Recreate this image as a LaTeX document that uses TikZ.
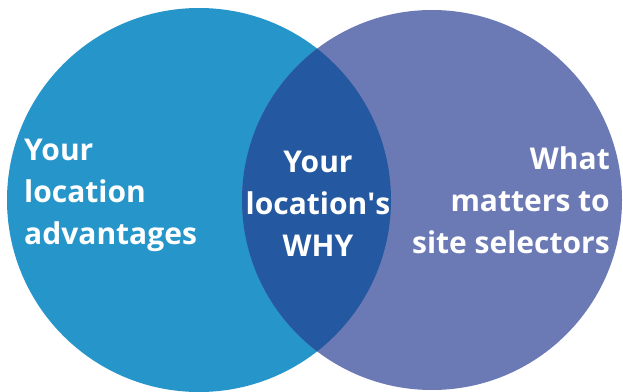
\documentclass[tikz,border=0pt]{standalone}
\usepackage{fontspec}
\setmainfont{Open Sans}
\newlength{\du}
\setlength{\du}{1pt}
\definecolor{leftcolor}{rgb}{0.145000, 0.584000, 0.792000}
\definecolor{rightcolor}{rgb}{0.420000, 0.478000, 0.710000}
\definecolor{whycolor}{rgb}{0.141000, 0.349000, 0.631000}
\tikzset{venntext/.style={text=white, font=\bfseries\fontsize{30}{42}\selectfont, inner sep=0pt}}

\begin{document}
\begin{tikzpicture}
\pgftransformxscale{1.000000}
\pgftransformyscale{-1.000000}
\useasboundingbox (0\du,0\du) rectangle (623\du,391\du);
% circles
\fill[leftcolor] (199.000000\du,200.000000\du) circle (192.000000\du);
\fill[rightcolor] (432.000000\du,200.000000\du) circle (190.000000\du);
\begin{scope}
\clip (199.000000\du,200.000000\du) circle (192.000000\du);
\fill[whycolor] (432.000000\du,200.000000\du) circle (190.000000\du);
\end{scope}
% labels
\node[venntext, anchor=north west, align=left] (advantages) at (24.000000\du,138.600000\du){Your\\location\\advantages};
\node[venntext, anchor=north, align=center] (why) at (318.000000\du,150.600000\du){Your\\location\textquotesingle s\\WHY};
\node[venntext, anchor=north east, align=right] (selectors) at (610.000000\du,146.600000\du){What\\matters to\\site selectors};
\end{tikzpicture}
\end{document}
